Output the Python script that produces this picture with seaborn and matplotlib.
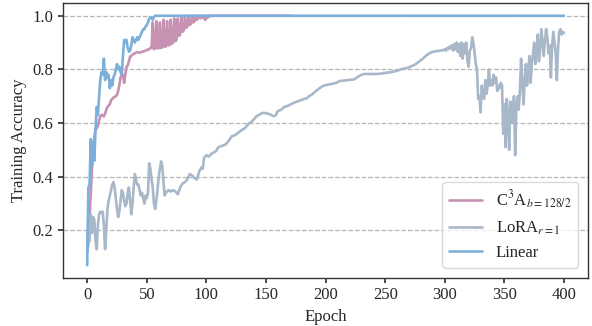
import matplotlib
matplotlib.use('Agg')
import matplotlib.pyplot as plt
import seaborn as sns
import pandas as pd

# --- data ---
METHODS = [r'C$^3$A$_{b=128/2}$', r'LoRA$_{r=1}$', 'Linear']
COLORS = ['#c792b2', '#a8b8c9', '#7cb0da']

c3a_epoch = list(range(0, 41)) + [42, 44, 46, 48, 50, 52, 53] + list(range(54, 105)) + [170]
c3a_acc = [0.12, 0.15, 0.25, 0.34, 0.43, 0.50, 0.55, 0.575, 0.58, 0.59, 0.61, 0.625, 0.63, 0.63, 0.625, 0.635, 0.65, 0.66, 0.665, 0.67,
           0.685, 0.69, 0.695, 0.697, 0.70, 0.705, 0.72, 0.742, 0.77, 0.78, 0.78, 0.75, 0.78, 0.81, 0.815, 0.83, 0.848, 0.85, 0.855, 0.858,
           0.86, 0.865, 0.862, 0.866, 0.868, 0.872, 0.875, 0.88,
           0.88, 0.975, 0.875, 0.88, 0.98, 0.878, 0.88, 0.975, 0.88, 0.882, 0.985, 0.885, 0.885, 0.98, 0.89, 0.89, 0.985, 0.895,
           0.90, 0.99, 0.905, 0.91, 0.99, 0.925, 0.93, 0.995, 0.94, 0.945, 0.995, 0.955, 0.96, 1.0, 0.965, 0.97, 1.0, 0.975,
           0.98, 1.0, 0.985, 0.99, 1.0, 0.99, 0.995, 1.0, 0.99, 0.985, 0.99, 1.0, 0.995, 1.0, 1.0,
           1.0]

lora_epoch = list(range(0, 67)) + [68, 70, 72, 74, 76, 78, 80, 82, 84, 86, 88, 90, 92, 94, 96, 97, 98, 100, 102,
             104, 108, 110, 113, 116, 119, 121, 124, 127, 130, 132, 134, 136, 138, 140, 142, 145, 147,
             150, 153, 156, 158, 160, 163, 165, 167, 170, 173, 176, 179, 182, 184, 186, 188, 190, 192,
             195, 198, 201, 204, 206, 209, 212, 215, 218, 221, 224, 227, 230, 233, 238, 243, 246, 250,
             254, 257, 260, 263, 266, 269, 272, 275, 278, 281, 284, 287, 290, 293, 296, 299] + list(range(300, 401))
lora_acc = [0.13, 0.25, 0.16, 0.26, 0.19, 0.25, 0.24, 0.16, 0.13, 0.22, 0.26, 0.27, 0.265, 0.27, 0.22, 0.13, 0.20, 0.28, 0.31, 0.33,
            0.35, 0.37, 0.38, 0.36, 0.32, 0.28, 0.25, 0.27, 0.31, 0.35, 0.34, 0.31, 0.29, 0.30, 0.34, 0.36, 0.31, 0.26, 0.30, 0.36,
            0.41, 0.39, 0.37, 0.37, 0.35, 0.33, 0.34, 0.32, 0.30, 0.33, 0.32, 0.34, 0.45, 0.43, 0.39, 0.36, 0.30, 0.28, 0.31, 0.35,
            0.40, 0.43, 0.457, 0.44, 0.38, 0.33, 0.34,
            0.35, 0.345, 0.35, 0.345, 0.335, 0.36, 0.375, 0.38, 0.39, 0.41, 0.405, 0.395, 0.39, 0.42, 0.435, 0.43, 0.47, 0.48, 0.475,
            0.485, 0.495, 0.51, 0.515, 0.52, 0.535, 0.55, 0.555, 0.565, 0.575, 0.58, 0.59, 0.60, 0.605, 0.615, 0.625, 0.633, 0.638,
            0.637, 0.633, 0.626, 0.628, 0.645, 0.65, 0.66, 0.662, 0.668, 0.675, 0.68, 0.685, 0.69, 0.692, 0.70, 0.705, 0.712, 0.72,
            0.73, 0.739, 0.742, 0.745, 0.747, 0.75, 0.757, 0.758, 0.76, 0.761, 0.763, 0.772, 0.78, 0.783, 0.783, 0.783, 0.784, 0.787,
            0.789, 0.792, 0.795, 0.80, 0.803, 0.806, 0.812, 0.818, 0.828, 0.838, 0.85, 0.86, 0.866, 0.868, 0.870, 0.872,
            0.875, 0.87, 0.88, 0.875, 0.885, 0.878, 0.89, 0.87, 0.895, 0.875, 0.90, 0.865, 0.895, 0.85, 0.90, 0.84, 0.895, 0.86, 0.90, 0.83,
            0.81, 0.87, 0.88, 0.92, 0.90, 0.86, 0.82, 0.80, 0.69, 0.70, 0.64, 0.74, 0.70, 0.69, 0.76, 0.71, 0.74, 0.80, 0.74, 0.76,
            0.74, 0.78, 0.75, 0.77, 0.72, 0.74, 0.73, 0.75, 0.74, 0.56, 0.67, 0.51, 0.69, 0.62, 0.50, 0.68, 0.67, 0.60, 0.70, 0.48,
            0.66, 0.70, 0.65, 0.72, 0.84, 0.76, 0.67, 0.75, 0.82, 0.74, 0.80, 0.85, 0.75, 0.82, 0.86, 0.90, 0.82, 0.87, 0.93, 0.83,
            0.88, 0.95, 0.90, 0.85, 0.91, 0.95, 0.92, 0.86, 0.89, 0.77, 0.89, 0.94, 0.90, 0.86, 0.76, 0.88, 0.94, 0.95, 0.93, 0.94,
            0.935]

linear_epoch = [0, 0.5, 1, 2, 3, 4, 5, 6, 7, 8, 9, 10, 11, 12, 13, 14, 15, 16, 17, 18, 19,
                20, 21, 22, 23, 24, 25, 26, 27, 28, 29, 30, 31, 32, 33, 34, 35, 36, 37, 38, 39,
                40, 41, 42, 43, 44, 45, 46, 47, 48, 49, 50, 51, 52, 53, 54, 55, 56, 57, 400]
linear_acc = [0.07, 0.22, 0.36, 0.37, 0.54, 0.44, 0.53, 0.46, 0.58, 0.66, 0.63, 0.70, 0.76, 0.79, 0.78, 0.84, 0.76, 0.79, 0.77, 0.78, 0.73,
              0.76, 0.74, 0.77, 0.78, 0.80, 0.82, 0.80, 0.81, 0.79, 0.78, 0.85, 0.91, 0.90, 0.91, 0.88, 0.866, 0.87, 0.89, 0.92, 0.91,
              0.90, 0.91, 0.92, 0.91, 0.92, 0.93, 0.94, 0.95, 0.95, 0.96, 0.965, 0.975, 0.99, 0.995, 0.99, 0.985, 0.995, 1.0, 1.0]

df = pd.concat([
    pd.DataFrame({'Epoch': c3a_epoch, 'Accuracy': c3a_acc, 'Method': METHODS[0]}),
    pd.DataFrame({'Epoch': lora_epoch, 'Accuracy': lora_acc, 'Method': METHODS[1]}),
    pd.DataFrame({'Epoch': linear_epoch, 'Accuracy': linear_acc, 'Method': METHODS[2]}),
])

# --- style ---
sns.set_theme(style="ticks")
plt.rcParams['font.family'] = ['Liberation Serif', 'DejaVu Serif']
plt.rcParams['mathtext.fontset'] = 'stix'

fig = plt.figure(figsize=(5.92, 3.26), dpi=100)
ax = fig.add_axes([0.107, 0.148, 0.886, 0.842])

sns.lineplot(data=df, x='Epoch', y='Accuracy', hue='Method', hue_order=METHODS,
             palette=COLORS, estimator=None, linewidth=1.9, ax=ax)

ax.set_xlim(-20, 420)
ax.set_ylim(0.0235, 1.0465)
ax.set_xticks(range(0, 401, 50))
ax.set_yticks([0.2, 0.4, 0.6, 0.8, 1.0])
ax.yaxis.grid(True, linestyle='--', color='#b5b5b5', linewidth=0.9)
ax.set_axisbelow(True)
ax.tick_params(labelsize=12, length=3.5, color='#333333')
for sp in ax.spines.values():
    sp.set_color('#333333')
    sp.set_linewidth(1.0)
ax.set_xlabel('Epoch', fontsize=12)
ax.set_ylabel('Training Accuracy', fontsize=12)

leg = ax.legend(loc='lower right', fontsize=12, frameon=True, fancybox=True,
                borderaxespad=0.6)
leg.get_frame().set_edgecolor('#d0d0d0')

plt.savefig('out.png', dpi=100)
